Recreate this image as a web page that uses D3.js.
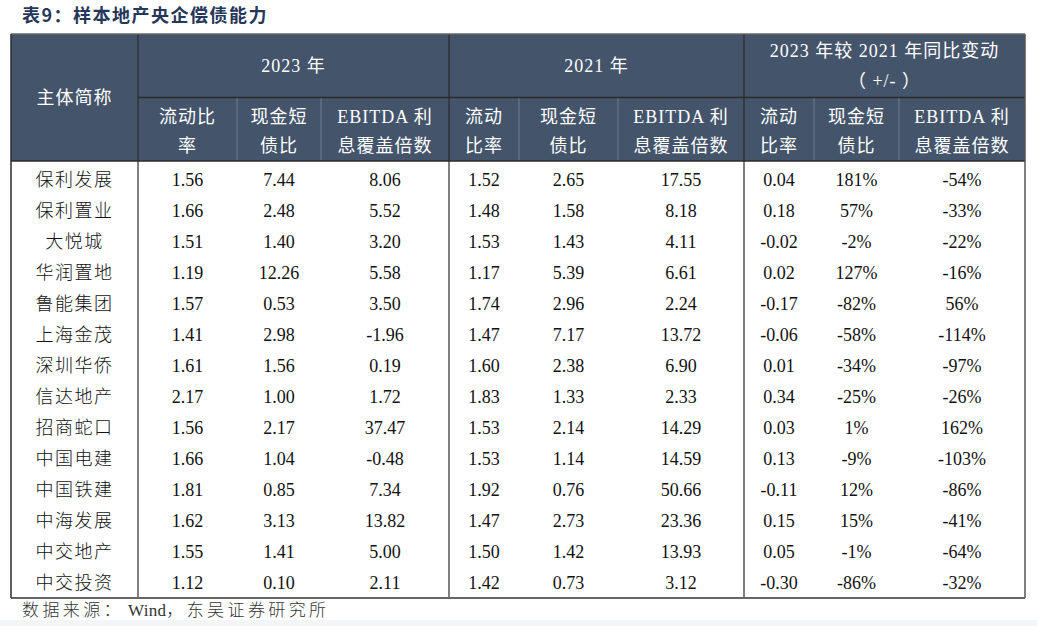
<!DOCTYPE html>
<html><head><meta charset="utf-8">
<script src="https://cdn.jsdelivr.net/npm/d3@7"></script>
<style>
html,body{margin:0;padding:0;background:#fff;}
svg{display:block;}
</style></head>
<body>
<svg id="chart" width="1037" height="626"></svg>
<script>
const title = "表9：样本地产央企偿债能力";
const sourceParts = ["数据来源：", "Wind", "，东吴证券研究所"];
const groupLabels = [["主体简称"], ["2023 年"], ["2021 年"], ["2023 年较 2021 年同比变动", "（ +/- ）"]];
const subLabels = [
  ["流动比", "率"], ["现金短", "债比"], ["EBITDA 利", "息覆盖倍数"],
  ["流动", "比率"], ["现金短", "债比"], ["EBITDA 利", "息覆盖倍数"],
  ["流动", "比率"], ["现金短", "债比"], ["EBITDA 利", "息覆盖倍数"]
];
const companies = ["保利发展","保利置业","大悦城","华润置地","鲁能集团","上海金茂","深圳华侨","信达地产","招商蛇口","中国电建","中国铁建","中海发展","中交地产","中交投资"];
const currentRatio2023 = ["1.56","1.66","1.51","1.19","1.57","1.41","1.61","2.17","1.56","1.66","1.81","1.62","1.55","1.12"];
const cashDebt2023 = ["7.44","2.48","1.40","12.26","0.53","2.98","1.56","1.00","2.17","1.04","0.85","3.13","1.41","0.10"];
const ebitda2023 = ["8.06","5.52","3.20","5.58","3.50","-1.96","0.19","1.72","37.47","-0.48","7.34","13.82","5.00","2.11"];
const currentRatio2021 = ["1.52","1.48","1.53","1.17","1.74","1.47","1.60","1.83","1.53","1.53","1.92","1.47","1.50","1.42"];
const cashDebt2021 = ["2.65","1.58","1.43","5.39","2.96","7.17","2.38","1.33","2.14","1.14","0.76","2.73","1.42","0.73"];
const ebitda2021 = ["17.55","8.18","4.11","6.61","2.24","13.72","6.90","2.33","14.29","14.59","50.66","23.36","13.93","3.12"];
const currentRatioChg = ["0.04","0.18","-0.02","0.02","-0.17","-0.06","0.01","0.34","0.03","0.13","-0.11","0.15","0.05","-0.30"];
const cashDebtChg = ["181%","57%","-2%","127%","-82%","-58%","-34%","-25%","1%","-9%","12%","15%","-1%","-86%"];
const ebitdaChg = ["-54%","-33%","-22%","-16%","56%","-114%","-97%","-26%","162%","-103%","-86%","-41%","-64%","-32%"];

const columns = [companies, currentRatio2023, cashDebt2023, ebitda2023, currentRatio2021, cashDebt2021, ebitda2021, currentRatioChg, cashDebtChg, ebitdaChg];

// layout
const edges = [11, 138, 237, 321, 449, 519, 618, 744, 814, 899, 1025];
const tblTop = 34, midH = 97.5, headBottom = 161, tblBottom = 598;
const headerFill = "#44546a";
const font = "'Liberation Serif','Noto Sans CJK SC',serif";

const svg = d3.select("#chart");
svg.append("rect").attr("x",0).attr("y",620).attr("width",1037).attr("height",6).attr("fill","#f4f5f7");

const colIdx = d3.range(columns.length);
const xLeft = d3.scaleOrdinal().domain(colIdx).range(edges.slice(0, -1));
const xRight = d3.scaleOrdinal().domain(colIdx).range(edges.slice(1));
const xc = i => (xLeft(i) + xRight(i)) / 2;
const y = d3.scaleBand().domain(d3.range(companies.length)).range([164, tblBottom]);

// title
svg.append("text").attr("x", 22).attr("y", 22).text(title)
  .attr("font-family", "'Noto Sans CJK SC',sans-serif").attr("font-weight", "bold")
  .attr("font-size", 18).attr("letter-spacing", 1.5).attr("fill", "#26375a");

// header background
svg.append("rect").attr("x", edges[0]).attr("y", tblTop).attr("width", edges[10]-edges[0]).attr("height", headBottom-tblTop).attr("fill", headerFill);

// header light sub-column lines
const lightLines = [2,3,5,6,8,9];
svg.selectAll("line.sub").data(lightLines).join("line")
  .attr("x1", d => edges[d]).attr("x2", d => edges[d]).attr("y1", midH).attr("y2", headBottom)
  .attr("stroke", "#6f7c8f").attr("stroke-width", 1);

// group headers
const groupSpans = [[0,1],[1,4],[4,7],[7,10]];
const hdr = svg.append("g").attr("font-family", font).attr("fill", "#fff").attr("font-size", 18).attr("text-anchor", "middle").attr("letter-spacing", 1);
groupSpans.forEach((s, gi) => {
  const cx = (edges[s[0]] + edges[s[1]]) / 2;
  const lines = groupLabels[gi];
  let ys;
  if (gi === 0) ys = [98];
  else if (lines.length === 1) ys = [66];
  else ys = [51, 81];
  lines.forEach((t, li) => {
    hdr.append("text").attr("x", cx).attr("y", ys[li]).attr("dy", "0.35em").text(t);
  });
});
subLabels.forEach((lines, i) => {
  lines.forEach((t, li) => {
    hdr.append("text").attr("x", xc(i+1)).attr("y", li === 0 ? 117 : 146).attr("dy", "0.35em").text(t);
  });
});

// dark lines
const dark = "#2b2b2b";
svg.append("line").attr("x1", edges[1]).attr("x2", edges[10]).attr("y1", midH).attr("y2", midH).attr("stroke", dark).attr("stroke-width", 1.5);
svg.append("line").attr("x1", edges[0]).attr("x2", edges[10]).attr("y1", headBottom).attr("y2", headBottom).attr("stroke", dark).attr("stroke-width", 1.5);
[1,4,7].forEach(i => {
  svg.append("line").attr("x1", edges[i]).attr("x2", edges[i]).attr("y1", tblTop).attr("y2", tblBottom).attr("stroke", dark).attr("stroke-width", 1.2);
});
// outer border
svg.append("line").attr("x1", edges[0]).attr("x2", edges[10]).attr("y1", tblTop).attr("y2", tblTop).attr("stroke", "#666").attr("stroke-width", 1.5);
svg.append("line").attr("x1", edges[0]).attr("x2", edges[10]).attr("y1", tblBottom).attr("y2", tblBottom).attr("stroke", "#666").attr("stroke-width", 1.8);
svg.append("line").attr("x1", edges[0]).attr("x2", edges[0]).attr("y1", tblTop).attr("y2", tblBottom).attr("stroke", dark).attr("stroke-width", 1.5);
svg.append("line").attr("x1", edges[10]).attr("x2", edges[10]).attr("y1", tblTop).attr("y2", tblBottom).attr("stroke", "#555").attr("stroke-width", 1.5);

// body cells
const body = svg.append("g").attr("font-family", font).attr("font-size", 18).attr("fill", "#111").attr("text-anchor", "middle");
columns.forEach((col, ci) => {
  body.selectAll(null).data(col).join("text")
    .attr("x", xc(ci))
    .attr("y", (d, ri) => y(ri) + y.bandwidth()/2)
    .attr("dy", "0.35em")
    .attr("letter-spacing", ci === 0 ? 1.5 : 0)
    .attr("font-weight", ci === 0 ? 300 : null)
    .text(d => d);
});

// source
const src = svg.append("text").attr("x", 22).attr("y", 610).attr("dy", "0.35em")
  .attr("font-family", font).attr("font-size", 17).attr("fill", "#333").attr("font-weight", 300);
src.selectAll("tspan").data(sourceParts).join("tspan")
  .attr("letter-spacing", (d, i) => i === 1 ? 0.3 : 3.4)
  .attr("dx", (d, i) => i === 1 ? 4 : 0)
  .text(d => d);
</script>
</body></html>
